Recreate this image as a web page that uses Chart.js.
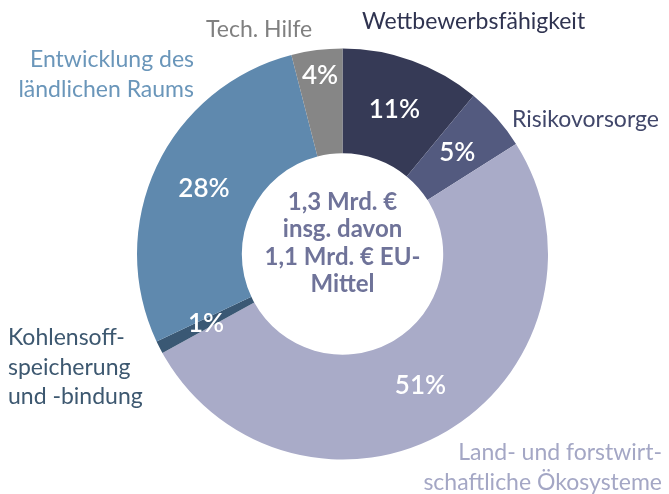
<!DOCTYPE html>
<html lang="de">

<head>
    <meta charset="UTF-8">
    <title>ELER Mittelverteilung</title>
    <style>
        html, body { margin: 0; padding: 0; background: #fff; }
        #wrap { width: 669px; height: 494px; position: relative; }
    </style>
</head>

<body>
    <div id="wrap"><canvas id="myChart" width="669" height="494"></canvas></div>
    <script src="https://cdn.jsdelivr.net/npm/chart.js"></script>
    <script>
        // data, clockwise from 12 o'clock
        const categories = ['Wettbewerbsfähigkeit', 'Risikovorsorge', 'Land- und forstwirtschaftliche Ökosysteme',
            'Kohlenstoffspeicherung und -bindung', 'Entwicklung des ländlichen Raums', 'Tech. Hilfe'];
        const shares = [11, 5, 51, 1, 28, 4];
        const sliceColors = ['#363a56', '#535a7f', '#a9abc8', '#3a5874', '#5f89ae', '#868686'];
        const centerText = ['1,3 Mrd. €', 'insg. davon', '1,1 Mrd. € EU-', 'Mittel'];

        // outside labels: lines, colour, anchor, alignment
        const outerLabels = [
            { lines: ['Wettbewerbsfähigkeit'], color: '#2f3350', x: 362, y: 22, align: 'left' },
            { lines: ['Risikovorsorge'], color: '#41476a', x: 512, y: 120, align: 'left' },
            { lines: ['Land- und forstwirt-', 'schaftliche Ökosysteme'], color: '#a4a7c5', x: 662, y: 453, align: 'right' },
            { lines: ['Kohlensoff-', 'speicherung', 'und -bindung'], color: '#3d5870', x: 8, y: 338, align: 'left' },
            { lines: ['Entwicklung des', 'ländlichen Raums'], color: '#6a96ba', x: 194, y: 60, align: 'right' },
            { lines: ['Tech. Hilfe'], color: '#808080', x: 206, y: 30, align: 'left' }
        ];

        const FONT = 'Lato, "Open Sans", sans-serif';

        const labelPlugin = {
            id: 'labels',
            afterDatasetsDraw(chart) {
                const ctx = chart.ctx;
                const meta = chart.getDatasetMeta(0);
                ctx.save();
                ctx.textBaseline = 'middle';

                // percentages inside slices
                ctx.fillStyle = '#ffffff';
                ctx.font = '600 26px ' + FONT;
                ctx.textAlign = 'center';
                meta.data.forEach((arc, i) => {
                    const mid = (arc.startAngle + arc.endAngle) / 2;
                    let r = (arc.innerRadius + arc.outerRadius) / 2;
                    if (i === shares.length - 1) r = arc.outerRadius - 26;
                    ctx.fillText(shares[i] + '%', arc.x + Math.cos(mid) * r, arc.y + Math.sin(mid) * r);
                });

                // centre text
                const c = meta.data[0];
                ctx.fillStyle = '#6f7399';
                ctx.font = 'bold 24px ' + FONT;
                centerText.forEach((t, k) => {
                    ctx.fillText(t, c.x, c.y - 52 + k * 27.5);
                });

                // category labels
                ctx.font = '23px ' + FONT;
                outerLabels.forEach(l => {
                    ctx.fillStyle = l.color;
                    ctx.textAlign = l.align;
                    l.lines.forEach((t, k) => ctx.fillText(t, l.x, l.y + k * 29.5));
                });
                ctx.restore();
            }
        };

        new Chart(document.getElementById('myChart'), {
            type: 'doughnut',
            data: {
                labels: categories,
                datasets: [{
                    data: shares,
                    backgroundColor: sliceColors,
                    borderWidth: 0
                }]
            },
            options: {
                responsive: false,
                animation: false,
                cutout: '49%',
                layout: { padding: { top: 48, bottom: 34, left: 137, right: 121 } },
                plugins: {
                    legend: { display: false },
                    tooltip: { enabled: false }
                }
            },
            plugins: [labelPlugin]
        });
    </script>
</body>

</html>
